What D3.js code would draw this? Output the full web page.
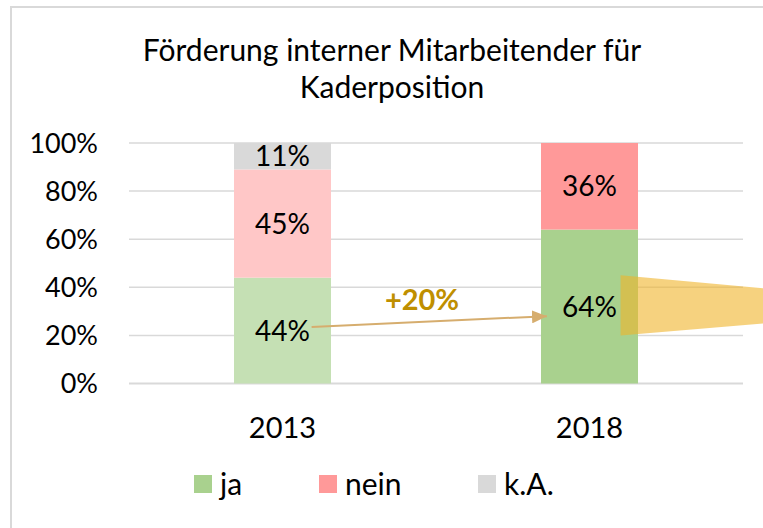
<!DOCTYPE html>
<html>
<head>
<meta charset="utf-8">
<script src="https://cdn.jsdelivr.net/npm/d3@7"></script>
<style>
  body { margin: 0; background: #fff; }
  svg text { font-family: Lato, "Open Sans", sans-serif; fill: #000; }
</style>
</head>
<body>
<div id="chart"></div>
<script>
// data
const years = ['2013', '2018'];
const seriesNames = ['ja', 'nein', 'k.A.'];
const jaValues = [44, 64];
const neinValues = [45, 36];
const kaValues = [11, 0];
const yTicks = [0, 20, 40, 60, 80, 100];

// colours per series, lighter tone for 2013
const colors2013 = ['#c5e0b4', '#ffc7c7', '#d9d9d9'];
const colors2018 = ['#a9d18e', '#ff9999', '#d9d9d9'];
const legendColors = ['#a9d18e', '#ff9999', '#d9d9d9'];

const W = 763, H = 528;
const svg = d3.select('#chart').append('svg')
  .attr('width', W).attr('height', H);

// outer frame (cut off right/bottom like the screenshot)
svg.append('rect')
  .attr('x', 11).attr('y', 7)
  .attr('width', W).attr('height', H)
  .attr('fill', '#fff').attr('stroke', '#d9d9d9').attr('stroke-width', 2);

// title
const title = svg.append('text')
  .attr('text-anchor', 'middle')
  .style('font-size', '30px');
title.append('tspan').attr('x', 392).attr('y', 61).text('Förderung interner Mitarbeitender für');
title.append('tspan').attr('x', 392).attr('y', 98).text('Kaderposition');

const x = d3.scaleBand().domain(years).range([129, 743])
  .paddingInner(0.684).paddingOuter(0.342);
const y = d3.scaleLinear().domain([0, 100]).range([383.5, 143]);

// gridlines
svg.append('g').selectAll('line')
  .data(yTicks)
  .enter().append('line')
  .attr('x1', 129).attr('x2', 743)
  .attr('y1', d => y(d)).attr('y2', d => y(d))
  .attr('stroke', '#d9d9d9')
  .attr('stroke-width', d => d === 0 ? 2 : 1.5);

// y tick labels
svg.append('g').selectAll('text')
  .data(yTicks)
  .enter().append('text')
  .attr('x', 98).attr('y', d => y(d))
  .attr('dy', '0.36em')
  .attr('text-anchor', 'end')
  .style('font-size', '27px')
  .text(d => d + '%');

// stacked bars
const rows = years.map((yr, i) => ({year: yr, ja: jaValues[i], nein: neinValues[i], 'k.A.': kaValues[i]}));
const stack = d3.stack().keys(seriesNames)(rows);

stack.forEach((layer, si) => {
  layer.forEach((d, i) => {
    const v = d[1] - d[0];
    if (v <= 0) return;
    const col = i === 0 ? colors2013[si] : colors2018[si];
    svg.append('rect')
      .attr('x', x(years[i]))
      .attr('width', x.bandwidth())
      .attr('y', y(d[1]))
      .attr('height', y(d[0]) - y(d[1]))
      .attr('fill', col);
    svg.append('text')
      .attr('x', x(years[i]) + x.bandwidth() / 2)
      .attr('y', (y(d[0]) + y(d[1])) / 2)
      .attr('dy', '0.36em')
      .attr('text-anchor', 'middle')
      .style('font-size', '28px')
      .text(v + '%');
  });
});

// x labels
svg.append('g').selectAll('text')
  .data(years)
  .enter().append('text')
  .attr('x', d => x(d) + x.bandwidth() / 2)
  .attr('y', 428)
  .attr('dy', '0.36em')
  .attr('text-anchor', 'middle')
  .style('font-size', '29px')
  .text(d => d);

// yellow highlight shape (in data units, from the 2018 bar to the edge)
const shapeLeft = [45, 20];
const shapeRight = [39.6, 25];
const sx0 = x('2018') + x.bandwidth() * 0.82;
const pts = [[sx0, y(shapeLeft[0])], [W, y(shapeRight[0])], [W, y(shapeRight[1])], [sx0, y(shapeLeft[1])]];
svg.append('polygon')
  .attr('points', pts.map(p => p.join(',')).join(' '))
  .attr('fill', '#f0b429')
  .attr('fill-opacity', 0.6);

// arrow from ja 2013 to ja 2018
const arrowFrom = 23.5, arrowTo = 28;
svg.append('defs').append('marker')
  .attr('id', 'head')
  .attr('viewBox', '0 0 10 10')
  .attr('refX', 10).attr('refY', 5)
  .attr('markerWidth', 15).attr('markerHeight', 13)
  .attr('markerUnits', 'userSpaceOnUse')
  .attr('orient', 'auto')
  .attr('preserveAspectRatio', 'none')
  .append('path').attr('d', 'M0,0L10,5L0,10Z').attr('fill', '#d6ad6e');

svg.append('line')
  .attr('x1', x('2013') + x.bandwidth() * 0.8)
  .attr('y1', y(arrowFrom))
  .attr('x2', x('2018') + 6)
  .attr('y2', y(arrowTo))
  .attr('stroke', '#d6ad6e')
  .attr('stroke-width', 2)
  .attr('marker-end', 'url(#head)');

svg.append('text')
  .attr('x', 422).attr('y', 310)
  .attr('text-anchor', 'middle')
  .style('font-size', '29px')
  .style('font-weight', 'bold')
  .style('fill', '#bf8f00')
  .text('+20%');

// legend
const legendX = [194, 319, 478];
const lg = svg.append('g').selectAll('g')
  .data(seriesNames)
  .enter().append('g')
  .attr('transform', (d, i) => 'translate(' + legendX[i] + ',475)');
lg.append('rect').attr('width', 18).attr('height', 18)
  .attr('fill', (d, i) => legendColors[i]);
lg.append('text').attr('x', 26).attr('y', 9).attr('dy', '0.36em')
  .style('font-size', '30px')
  .text(d => d);
</script>
</body>
</html>
